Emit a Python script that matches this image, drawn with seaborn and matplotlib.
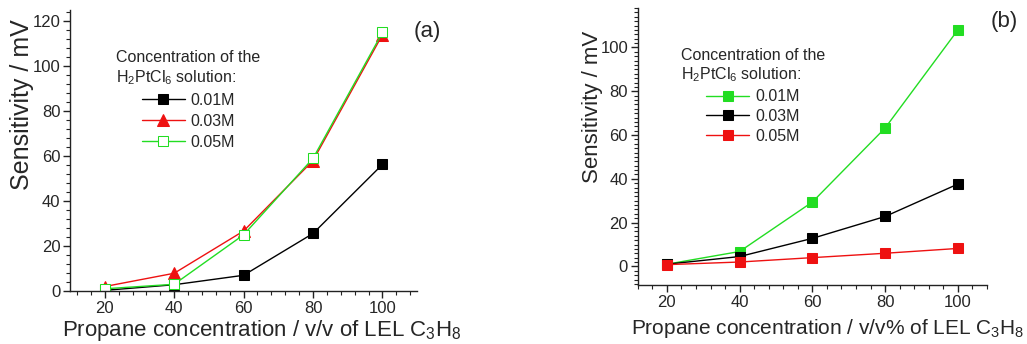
import matplotlib
matplotlib.use("Agg")
import matplotlib.pyplot as plt
import seaborn as sns
from matplotlib.ticker import MultipleLocator

# ── Data ──────────────────────────────────────────────
propane = [20, 40, 60, 80, 100]

# panel (a)
a_001 = [0.3, 2.8, 7.0, 25.6, 56.3]
a_003 = [2.0, 7.9, 26.7, 58.0, 114.0]
a_005 = [1.0, 3.0, 25.0, 59.0, 115.0]

# panel (b)
b_001 = [1.0, 6.8, 29.4, 63.2, 108.0]
b_003 = [1.0, 4.5, 12.8, 22.8, 37.6]
b_005 = [0.8, 2.0, 4.0, 6.0, 8.2]

labels = ["0.01M", "0.03M", "0.05M"]
legend_title = "Concentration of the\n$\\mathregular{H_2PtCl_6}$ solution:"

BLACK = "#000000"
RED = "#ee1111"
GREEN = "#22dd22"

# ── Style ─────────────────────────────────────────────
sns.set_style("ticks")
plt.rcParams["font.family"] = ["Liberation Sans", "DejaVu Sans"]
plt.rcParams["mathtext.fontset"] = "custom"
plt.rcParams["mathtext.rm"] = "Liberation Sans"
plt.rcParams["mathtext.it"] = "Liberation Sans:italic"

fig = plt.figure(figsize=(10.27, 3.44), dpi=100)
ax_a = fig.add_axes([0.0682, 0.154, 0.338, 0.817])
ax_b = fig.add_axes([0.621, 0.1715, 0.340, 0.805])


def style_axis(ax, ymin, ymax, xmin, xmax, yminor):
    ax.set_xlim(xmin, xmax)
    ax.set_ylim(ymin, ymax)
    ax.xaxis.set_major_locator(MultipleLocator(20))
    ax.xaxis.set_minor_locator(MultipleLocator(4))
    ax.yaxis.set_major_locator(MultipleLocator(20))
    ax.yaxis.set_minor_locator(MultipleLocator(yminor))
    ax.tick_params(which="major", direction="out", length=5, width=1,
                   labelsize=12, color="#222222", pad=2)
    ax.tick_params(which="minor", direction="out", length=3, width=0.8,
                   color="#222222")
    sns.despine(ax=ax)
    for s in ["left", "bottom"]:
        ax.spines[s].set_linewidth(1)
        ax.spines[s].set_color("#222222")


# ── Panel (a) ─────────────────────────────────────────
sns.lineplot(x=propane, y=a_001, ax=ax_a, color=BLACK, lw=1, marker="s",
             markersize=7, markerfacecolor=BLACK, markeredgecolor=BLACK,
             label=labels[0])
sns.lineplot(x=propane, y=a_003, ax=ax_a, color=RED, lw=1, marker="^",
             markersize=9, markerfacecolor=RED, markeredgecolor=RED,
             label=labels[1])
sns.lineplot(x=propane, y=a_005, ax=ax_a, color=GREEN, lw=1, marker="s",
             markersize=7, markerfacecolor="white", markeredgecolor=GREEN,
             label=labels[2])
style_axis(ax_a, 0, 125, 10, 110, 4)
ax_a.set_xlabel("Propane concentration / v/v of LEL $\\mathregular{C_3H_8}$",
                fontsize=16, va="top")
ax_a.set_ylabel("Sensitivity / mV", fontsize=18)
ax_a.xaxis.set_label_coords(0.553, -0.096)
ax_a.yaxis.set_label_coords(-0.105, 0.665)
ax_a.legend(title=legend_title, loc="upper left",
            bbox_to_anchor=(0.11, 0.885), frameon=False, fontsize=11.5,
            title_fontsize=11.5, borderpad=0, labelspacing=0.38,
            handlelength=2.7, handletextpad=0.35)
fig.text(427 / 1027, 1 - 31 / 344, "(a)", fontsize=16, ha="center", va="center")

# ── Panel (b) ─────────────────────────────────────────
sns.lineplot(x=propane, y=b_001, ax=ax_b, color=GREEN, lw=1, marker="s",
             markersize=7, markerfacecolor=GREEN, markeredgecolor=GREEN,
             label=labels[0])
sns.lineplot(x=propane, y=b_003, ax=ax_b, color=BLACK, lw=1, marker="s",
             markersize=7, markerfacecolor=BLACK, markeredgecolor=BLACK,
             label=labels[1])
sns.lineplot(x=propane, y=b_005, ax=ax_b, color=RED, lw=1, marker="s",
             markersize=7, markerfacecolor=RED, markeredgecolor=RED,
             label=labels[2])
style_axis(ax_b, -8.5, 118, 12, 108, 2)
ax_b.set_xlabel("Propane concentration / v/v% of LEL $\\mathregular{C_3H_8}$",
                fontsize=15, va="top")
ax_b.set_ylabel("Sensitivity / mV", fontsize=16)
ax_b.xaxis.set_label_coords(0.545, -0.116)
ax_b.yaxis.set_label_coords(-0.10, 0.643)
ax_b.legend(title=legend_title, loc="upper left",
            bbox_to_anchor=(0.10, 0.885), frameon=False, fontsize=11.5,
            title_fontsize=11.5, borderpad=0, labelspacing=0.3,
            handlelength=2.7, handletextpad=0.35)
fig.text(1004 / 1027, 1 - 22 / 344, "(b)", fontsize=16, ha="center", va="center")

fig.savefig("out.png", dpi=100)
plt.close(fig)
